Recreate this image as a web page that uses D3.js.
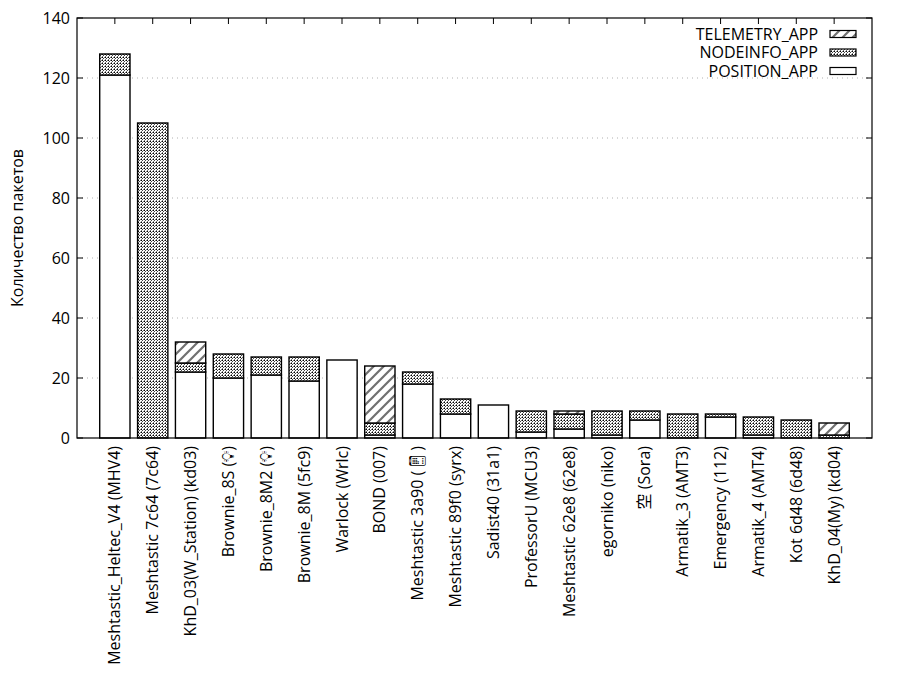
<!DOCTYPE html>
<html><head><meta charset="utf-8">
<script src="https://cdn.jsdelivr.net/npm/d3@7"></script>
<style>
html,body{margin:0;padding:0;background:#fff;}
text{font-family:"Open Sans","Noto Sans CJK JP","DejaVu Sans",sans-serif;fill:#000;}
</style></head>
<body>
<svg id="chart" width="900" height="700"></svg>
<script>
const categories = ["Meshtastic_Heltec_V4 (MHV4)","Meshtastic 7c64 (7c64)","KhD_03(W_Station) (kd03)","Brownie_8S (💡\uFE0E)","Brownie_8M2 (💡\uFE0E)","Brownie_8M (5fc9)","Warlock (Wrlc)","BOND (007)","Meshtastic 3a90 (📱\uFE0E)","Meshtastic 89f0 (syrx)","Sadist40 (31a1)","ProfessorU (MCU3)","Meshtastic 62e8 (62e8)","egorniko (niko)","空 (Sora)","Armatik_3 (AMT3)","Emergency (112)","Armatik_4 (AMT4)","Kot 6d48 (6d48)","KhD_04(My) (kd04)"];
const positionApp  = [121,0,22,20,21,19,26,1,18,8,11,2,3,1,6,0,7,1,0,0];
const nodeinfoApp  = [7,105,3,8,6,8,0,4,4,5,0,7,5,8,3,8,1,6,6,1];
const telemetryApp = [0,0,7,0,0,0,0,19,0,0,0,0,1,0,0,0,0,0,0,4];
const seriesNames = ["POSITION_APP","NODEINFO_APP","TELEMETRY_APP"];
const yTicks = [0,20,40,60,80,100,120,140];
const yTitle = "Количество пакетов";

const svg = d3.select("#chart");
const L=77, R=872, T=18, B=438;
const FS = 16;
const x = d3.scaleLinear().domain([-1, categories.length]).range([L, R]);
const y = d3.scaleLinear().domain([0, 140]).range([B, T]);
const bw = 0.8 * (x(1) - x(0));

const defs = svg.append("defs");
const ch = defs.append("pattern").attr("id","cross").attr("patternUnits","userSpaceOnUse").attr("width",3).attr("height",3);
ch.append("rect").attr("width",3).attr("height",3).attr("fill","#fff");
ch.append("rect").attr("x",0).attr("y",0).attr("width",1).attr("height",1).attr("fill","#000");
ch.append("rect").attr("x",1).attr("y",1).attr("width",1).attr("height",1).attr("fill","#444");
ch.append("rect").attr("x",2).attr("y",0).attr("width",1).attr("height",1).attr("fill","#777");
ch.append("rect").attr("x",0).attr("y",2).attr("width",1).attr("height",1).attr("fill","#777");
const hp = defs.append("pattern").attr("id","hatch").attr("patternUnits","userSpaceOnUse").attr("width",10).attr("height",10);
hp.append("rect").attr("width",10).attr("height",10).attr("fill","#fff");
hp.append("path").attr("d","M-2,2 L2,-2 M0,10 L10,0 M8,12 L12,8").attr("stroke","#707070").attr("stroke-width",2.2);
const fills = ["#fff","url(#cross)","url(#hatch)"];

// grid
svg.append("g").selectAll("line").data(yTicks.filter(t=>t>0 && t<140)).join("line")
  .attr("x1",L).attr("x2",R).attr("y1",d=>y(d)).attr("y2",d=>y(d))
  .attr("stroke","#b0b0b0").attr("stroke-width",1).attr("stroke-dasharray","1,4");

// bars
const stacked = categories.map((c,i)=>{
  const vals=[positionApp[i],nodeinfoApp[i],telemetryApp[i]];
  let acc=0; return vals.map((v,k)=>{const s={i,k,y0:acc,y1:acc+v}; acc+=v; return s;});
}).flat().filter(s=>s.y1>s.y0);
svg.append("g").selectAll("rect").data(stacked).join("rect")
  .attr("x",d=>x(d.i)-bw/2).attr("width",bw)
  .attr("y",d=>y(d.y1)).attr("height",d=>y(d.y0)-y(d.y1))
  .attr("fill",d=>fills[d.k]).attr("stroke","#000").attr("stroke-width",1.4);

// border
svg.append("rect").attr("x",L).attr("y",T).attr("width",R-L).attr("height",B-T)
  .attr("fill","none").attr("stroke","#000").attr("stroke-width",1.2);

// y axis ticks & labels
const yAxis = svg.append("g");
yTicks.forEach(t=>{
  yAxis.append("line").attr("x1",L).attr("x2",L+6).attr("y1",y(t)).attr("y2",y(t)).attr("stroke","#000");
  yAxis.append("line").attr("x1",R).attr("x2",R-6).attr("y1",y(t)).attr("y2",y(t)).attr("stroke","#000");
  yAxis.append("text").attr("x",L-7).attr("y",y(t)).attr("dy","0.35em").attr("text-anchor","end")
    .attr("font-size",FS).text(t);
});
// top ticks
svg.append("g").selectAll("line").data(categories).join("line")
  .attr("x1",(d,i)=>x(i)).attr("x2",(d,i)=>x(i)).attr("y1",T).attr("y2",T+6).attr("stroke","#000");

// x labels
svg.append("g").selectAll("text").data(categories).join("text")
  .attr("transform",(d,i)=>`translate(${x(i)},${B+8}) rotate(-90)`)
  .attr("dy","0.35em").attr("text-anchor","end").attr("font-size",FS).text(d=>d);

// y title
svg.append("text").attr("transform",`translate(23,${(T+B)/2}) rotate(-90)`)
  .attr("text-anchor","middle").attr("font-size",FS).text(yTitle);

// legend
const legOrder = [2,1,0];
legOrder.forEach((k,j)=>{
  const ly = 34 + j*18.5;
  svg.append("text").attr("x",818).attr("y",ly).attr("dy","0.35em").attr("text-anchor","end")
    .attr("font-size",FS).text(seriesNames[k]);
  svg.append("rect").attr("x",830).attr("y",ly-3.5).attr("width",26).attr("height",7)
    .attr("fill",fills[k]).attr("stroke","#000").attr("stroke-width",1.2);
});
</script>
</body></html>
